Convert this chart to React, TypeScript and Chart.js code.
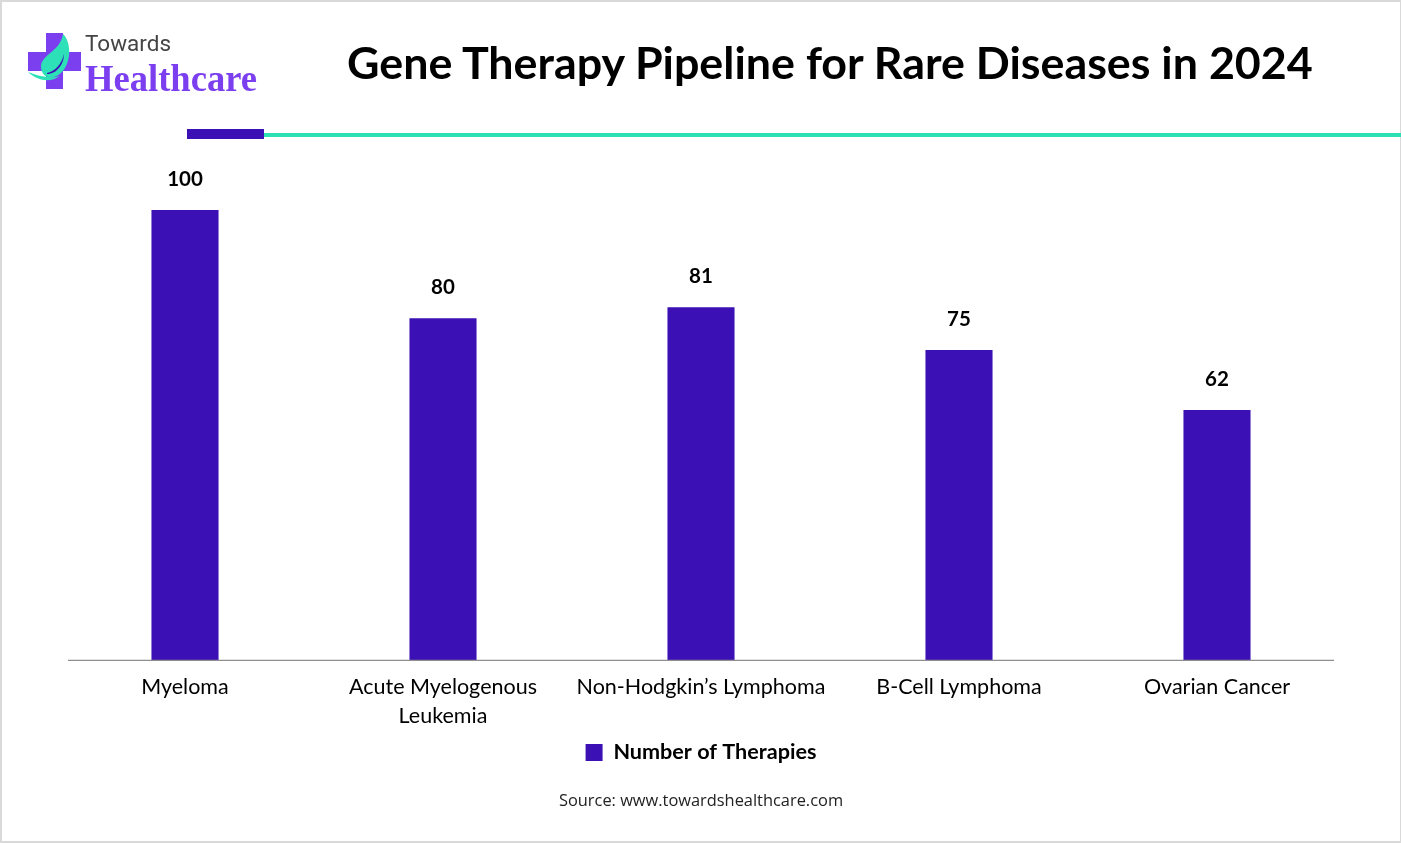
import React, { useEffect, useRef } from "react";
import { Chart, registerables } from "chart.js";

Chart.register(...registerables);

// Category names as printed under the axis
const categories = [
  "Myeloma",
  ["Acute Myelogenous", "Leukemia"],
  "Non-Hodgkin’s Lymphoma",
  "B-Cell Lymphoma",
  "Ovarian Cancer",
];
// The heights drawn in the reference are not proportional to its printed labels,
// so they are kept apart: heights are read from the bars, labels from the text.
const barHeights = [100, 76, 78.4, 68.9, 55.6];
const printedLabels = ["100", "80", "81", "75", "62"];
const seriesName = "Number of Therapies";
const sourceText = "Source: www.towardshealthcare.com";
const titleText = "Gene Therapy Pipeline for Rare Diseases in 2024";

const BAR = "#3b10b5";
const FONT = "Lato, Carlito, Calibri, sans-serif";

const decorations = {
  id: "decorations",
  afterDatasetsDraw(chart: any) {
    const { ctx, scales } = chart;
    const y0 = scales.y.getPixelForValue(0);
    ctx.save();
    ctx.strokeStyle = "#8f8f8f";
    ctx.lineWidth = 1.2;
    ctx.beginPath();
    ctx.moveTo(68, y0);
    ctx.lineTo(1334, y0);
    ctx.stroke();
    ctx.fillStyle = "#000";
    ctx.font = `bold 20.5px ${FONT}`;
    ctx.textAlign = "center";
    ctx.textBaseline = "middle";
    barHeights.forEach((v, i) => {
      ctx.fillText(printedLabels[i], scales.x.getPixelForValue(i), scales.y.getPixelForValue(v) - 31);
    });
    ctx.restore();
  },
};

export default function App() {
  const ref = useRef<HTMLCanvasElement>(null);
  useEffect(() => {
    document.body.style.margin = "0";
    const chart = new Chart(ref.current!, {
      type: "bar",
      data: {
        labels: categories as any,
        datasets: [
          {
            label: seriesName,
            data: barHeights,
            backgroundColor: BAR,
            barPercentage: 0.26,
            categoryPercentage: 1,
          },
        ],
      },
      options: {
        animation: false,
        responsive: false,
        layout: { padding: { left: 56, right: 55, top: 120, bottom: 32 } },
        scales: {
          x: {
            grid: { display: false },
            border: { display: false },
            ticks: {
              color: "#000",
              font: { family: FONT, size: 21.5, lineHeight: 1.31 },
              maxRotation: 0,
              autoSkip: false,
              padding: 5,
            },
          },
          y: { display: false, min: 0, max: 120 },
        },
        plugins: {
          tooltip: { enabled: false },
          legend: {
            position: "bottom",
            labels: {
              color: "#000",
              font: { family: FONT, size: 21.6, weight: "bold" },
              boxWidth: 17,
              boxHeight: 17,
              padding: 7,
            },
          },
          subtitle: {
            display: true,
            text: sourceText,
            position: "bottom",
            color: "#222",
            font: { family: "'Open Sans', sans-serif", size: 16.4, weight: "normal" },
            padding: { top: 18, bottom: 0 },
          },
        },
      } as any,
      plugins: [decorations],
    });
    return () => chart.destroy();
  }, []);

  return (
    <div style={{ position: "relative", width: 1401, height: 843, background: "#fff", overflow: "hidden" }}>
      <canvas ref={ref} width={1401} height={843} style={{ position: "absolute", left: 0, top: 0, width: 1401, height: 843 }} />
      <div style={{ position: "absolute", left: 0, top: 0, width: 1401, height: 843, boxSizing: "border-box", borderTop: "2px solid #d9d9d9", borderLeft: "2px solid #d9d9d9", borderBottom: "2px solid #d9d9d9", borderRight: "1px solid #d9d9d9", pointerEvents: "none" }} />
      <div style={{ position: "absolute", left: 347, top: 31, width: 966, whiteSpace: "nowrap", fontFamily: FONT, fontWeight: 700, fontSize: 44.8, lineHeight: "62px", color: "#000" }}>
        {titleText}
      </div>
      <div style={{ position: "absolute", left: 187, top: 129, width: 77, height: 10, background: BAR }} />
      <div style={{ position: "absolute", left: 264, top: 132.5, width: 1137, height: 4, background: "#2ddfb5" }} />
      <svg width={270} height={100} style={{ position: "absolute", left: 0, top: 0 }}>
        <path d="M46 33H63V52H81V71H63V89H46V71H28V52H46Z" fill="#7c3ff0" />
        <path d="M63 34C70 40 73 60 62 72C55 80 41 80 41 66C42 54 60 52 63 34Z" fill="#2de0b8" />
        <path d="M47 73C54 72 62 64 64 54C64 64 57 74 47 74Z" fill="#3b10b5" />
        <path d="M28 72C38 76 50 79 60 76C50 83 38 81 28 72Z" fill="#2de0b8" />
        <text x={85} y={51} fontFamily="Roboto, sans-serif" fontSize={22.5} fill="#444">Towards</text>
        <text x={85} y={91} fontFamily="'Liberation Serif', serif" fontWeight={700} fontSize={38} fill="#7c3ff0" textLength={172} lengthAdjust="spacingAndGlyphs">Healthcare</text>
      </svg>
    </div>
  );
}
